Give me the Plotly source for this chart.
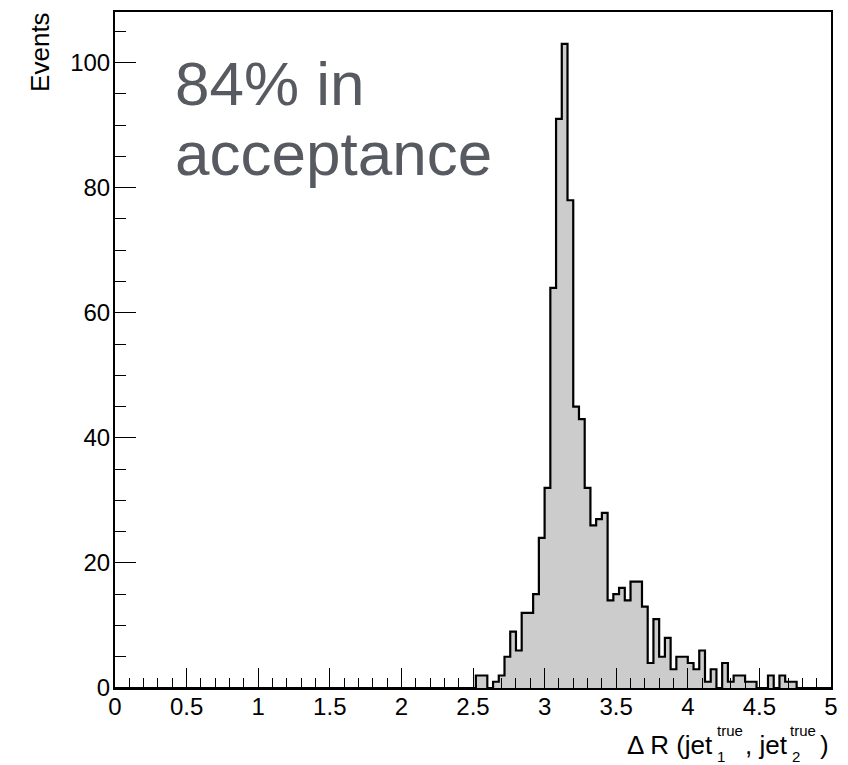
import plotly.graph_objects as go

# ---- data ----
x_min = 0.0
x_max = 5.0
n_bins = 125
counts = [0] * 63 + [
    2, 2, 0, 1, 2, 5, 9, 6, 12, 12,      # 2.52 .. 2.92
    15, 24, 32, 64, 91, 103, 78, 45, 43, 32,  # 2.92 .. 3.32
    26, 27, 28, 14, 15, 16, 14, 17, 17, 13,   # 3.32 .. 3.72
    4, 11, 5, 8, 3, 5, 5, 4, 3, 6,            # 3.72 .. 4.12
    1, 3, 0, 4, 1, 2, 2, 1, 1, 0,             # 4.12 .. 4.52
    0, 2, 0, 2, 1, 1, 0, 0, 0, 0,             # 4.52 .. 4.92
    0, 0,                                     # 4.92 .. 5.00
]
x_tick_vals = [0, 0.5, 1, 1.5, 2, 2.5, 3, 3.5, 4, 4.5, 5]
x_tick_text = ["0", "0.5", "1", "1.5", "2", "2.5", "3", "3.5", "4", "4.5", "5"]
y_tick_vals = [0, 20, 40, 60, 80, 100]
y_tick_text = ["0", "20", "40", "60", "80", "100"]

bw = (x_max - x_min) / n_bins
edges = [x_min + i * bw for i in range(n_bins + 1)]
step_x = edges
step_y = counts + [counts[-1]]

W, H = 848, 765
ML, MR, MT, MB = 115, 17, 10, 77
PW, PH = W - ML - MR, H - MT - MB


def px(xp):
    return (xp - ML) / PW


def py(yp):
    return (H - MB - yp) / PH


FONT = "Liberation Sans, Arial, Helvetica, sans-serif"

fig = go.Figure()
fig.add_trace(go.Scatter(
    x=step_x, y=step_y, mode="lines", line=dict(shape="hv", color="black", width=2.2),
    fill="tozeroy", fillcolor="#cccccc", hoverinfo="skip", showlegend=False,
))

fig.update_layout(
    width=W, height=H,
    margin=dict(l=ML, r=MR, t=MT, b=MB, pad=0),
    paper_bgcolor="white", plot_bgcolor="white",
    font=dict(family=FONT, size=24, color="black"),
    showlegend=False,
)
fig.update_xaxes(
    range=[x_min, x_max], tickvals=x_tick_vals, ticktext=x_tick_text,
    ticks="inside", ticklen=20, tickwidth=1.3, tickcolor="black",
    minor=dict(ticks="inside", dtick=0.1, ticklen=10, tickwidth=1.3, tickcolor="black"),
    showline=True, linecolor="black", linewidth=2, mirror=True,
    showgrid=False, zeroline=False, ticklabelstandoff=-4,
    tickfont=dict(family=FONT, size=24),
)
fig.update_yaxes(
    range=[0, 108.1], tickvals=y_tick_vals, ticktext=y_tick_text,
    ticks="inside", ticklen=21, tickwidth=1.3, tickcolor="black",
    minor=dict(ticks="inside", dtick=5, ticklen=11, tickwidth=1.3, tickcolor="black"),
    showline=True, linecolor="black", linewidth=2, mirror=True,
    showgrid=False, zeroline=False, ticklabelstandoff=-2,
    tickfont=dict(family=FONT, size=24),
)

ann = []
# y title
ann.append(dict(text="Events", x=px(40), y=py(50), xref="paper", yref="paper",
                xanchor="center", yanchor="middle", textangle=-90, showarrow=False,
                font=dict(family=FONT, size=26, color="black")))
# big text
grey = "#575b61"
ann.append(dict(text="84% in", x=px(173), y=py(82), xref="paper", yref="paper",
                xanchor="left", yanchor="middle", showarrow=False,
                font=dict(family=FONT, size=62, color=grey)))
ann.append(dict(text="acceptance", x=px(173), y=py(152), xref="paper", yref="paper",
                xanchor="left", yanchor="middle", showarrow=False,
                font=dict(family=FONT, size=62, color=grey)))
# x title pieces
base_y = 745
sup_y = 731
sub_y = 757
ann.append(dict(text="Δ R (jet", x=px(715), y=py(base_y), xref="paper", yref="paper",
                xanchor="right", yanchor="middle", showarrow=False,
                font=dict(family=FONT, size=26, color="black")))
ann.append(dict(text="true", x=px(715), y=py(sup_y), xref="paper", yref="paper",
                xanchor="left", yanchor="middle", showarrow=False,
                font=dict(family=FONT, size=15, color="black")))
ann.append(dict(text="1", x=px(715), y=py(sub_y), xref="paper", yref="paper",
                xanchor="left", yanchor="middle", showarrow=False,
                font=dict(family=FONT, size=15, color="black")))
ann.append(dict(text=", jet", x=px(743), y=py(base_y), xref="paper", yref="paper",
                xanchor="left", yanchor="middle", showarrow=False,
                font=dict(family=FONT, size=26, color="black")))
ann.append(dict(text="true", x=px(788), y=py(sup_y), xref="paper", yref="paper",
                xanchor="left", yanchor="middle", showarrow=False,
                font=dict(family=FONT, size=15, color="black")))
ann.append(dict(text="2", x=px(790), y=py(sub_y), xref="paper", yref="paper",
                xanchor="left", yanchor="middle", showarrow=False,
                font=dict(family=FONT, size=15, color="black")))
ann.append(dict(text=")", x=px(831), y=py(base_y), xref="paper", yref="paper",
                xanchor="right", yanchor="middle", showarrow=False,
                font=dict(family=FONT, size=26, color="black")))
fig.update_layout(annotations=ann)

fig.write_html("out.html")
